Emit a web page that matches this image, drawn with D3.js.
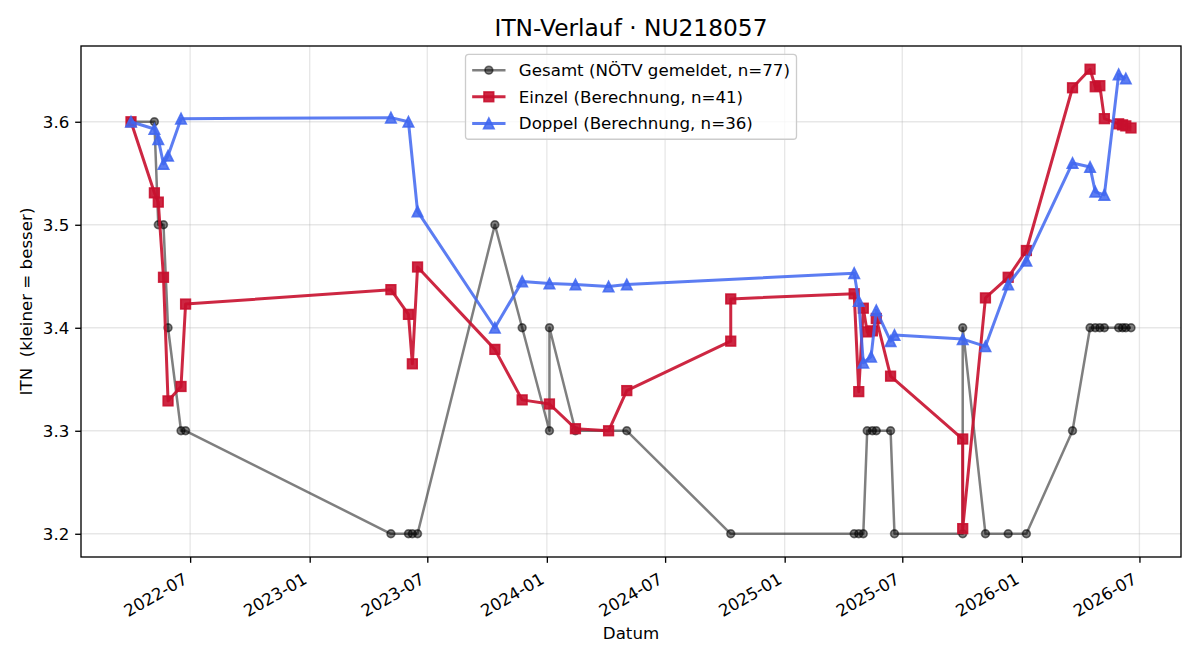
<!DOCTYPE html>
<html><head><meta charset="utf-8">
<script src="https://cdn.jsdelivr.net/npm/d3@7"></script>
<style>body{margin:0;background:#fff} svg{display:block} text{font-family:"DejaVu Sans",sans-serif;fill:#000}</style>
</head><body><svg id="c" width="1200" height="660"></svg>
<script>
// ---- data ----
const gesamtDates = ["2022-04-01","2022-05-07","2022-05-13","2022-05-21","2022-05-28","2022-06-17","2022-06-24","2023-05-06","2023-06-02","2023-06-08","2023-06-16","2023-10-13","2023-11-24","2024-01-05","2024-01-05","2024-02-14","2024-05-03","2024-10-10","2025-04-18","2025-04-25","2025-05-02","2025-05-08","2025-05-16","2025-05-22","2025-06-13","2025-06-19","2025-10-02","2025-10-02","2025-11-06","2025-12-11","2026-01-08","2026-03-20","2026-04-16","2026-04-24","2026-05-01","2026-05-08","2026-05-30","2026-06-05","2026-06-10","2026-06-18"];
const gesamtValues = [3.6,3.6,3.5,3.5,3.4,3.3,3.3,3.2,3.2,3.2,3.2,3.5,3.4,3.3,3.4,3.3,3.3,3.2,3.2,3.2,3.2,3.3,3.3,3.3,3.3,3.2,3.2,3.4,3.2,3.2,3.2,3.3,3.4,3.4,3.4,3.4,3.4,3.4,3.4,3.4];

const einzelDates = ["2022-04-01","2022-05-07","2022-05-13","2022-05-21","2022-05-28","2022-06-17","2022-06-24","2023-05-06","2023-06-02","2023-06-08","2023-06-16","2023-10-13","2023-11-24","2024-01-05","2024-02-14","2024-04-05","2024-05-03","2024-10-10","2024-10-10","2025-04-18","2025-04-25","2025-05-02","2025-05-08","2025-05-16","2025-05-22","2025-06-13","2025-10-02","2025-10-02","2025-11-06","2025-12-11","2026-01-08","2026-03-20","2026-04-16","2026-04-24","2026-05-01","2026-05-08","2026-05-30","2026-06-05","2026-06-10","2026-06-18"];
const einzelValues = [3.600,3.531,3.522,3.449,3.329,3.343,3.423,3.437,3.413,3.365,3.459,3.379,3.330,3.326,3.302,3.300,3.339,3.387,3.428,3.433,3.338,3.419,3.396,3.397,3.409,3.353,3.292,3.205,3.429,3.449,3.475,3.633,3.651,3.634,3.635,3.603,3.598,3.597,3.596,3.594];

const doppelDates = ["2022-04-01","2022-05-07","2022-05-13","2022-05-21","2022-05-28","2022-06-17","2023-05-06","2023-06-02","2023-06-16","2023-10-13","2023-11-24","2024-01-05","2024-02-14","2024-04-05","2024-05-03","2025-04-18","2025-04-25","2025-05-02","2025-05-14","2025-05-22","2025-06-13","2025-06-19","2025-10-02","2025-11-06","2025-12-11","2026-01-08","2026-03-20","2026-04-16","2026-04-24","2026-05-08","2026-05-30","2026-06-10"];
const doppelValues = [3.600,3.593,3.583,3.559,3.567,3.603,3.604,3.600,3.513,3.400,3.445,3.443,3.442,3.440,3.442,3.453,3.426,3.366,3.372,3.417,3.387,3.393,3.389,3.382,3.442,3.465,3.560,3.556,3.532,3.529,3.646,3.642];

const seriesLabels = ["Gesamt (NÖTV gemeldet, n=77)","Einzel (Berechnung, n=41)","Doppel (Berechnung, n=36)"];
const xTickLabels = ["2022-07","2023-01","2023-07","2024-01","2024-07","2025-01","2025-07","2026-01","2026-07"];
const yTickValues = [3.2,3.3,3.4,3.5,3.6];
const titleText = "ITN-Verlauf · NU218057";
const xLabelText = "Datum";
const yLabelText = "ITN  (kleiner = besser)";

// ---- layout ----
const L = 81, R = 1181, T = 46, B = 557;
const parse = d3.timeParse("%Y-%m-%d");
const mk = (ds, vs) => ds.map((d, i) => ({date: parse(d), v: vs[i]}));
const gesamt = mk(gesamtDates, gesamtValues);
const einzel = mk(einzelDates, einzelValues);
const doppel = mk(doppelDates, doppelValues);
const all = gesamt.concat(einzel, doppel);

const xe = d3.extent(all, d => +d.date);
const xp = (xe[1] - xe[0]) * 0.05;
const x = d3.scaleTime().domain([new Date(xe[0] - xp), new Date(xe[1] + xp)]).range([L, R]);
const ye = d3.extent(all, d => d.v);
const yp = (ye[1] - ye[0]) * 0.05;
const y = d3.scaleLinear().domain([ye[0] - yp, ye[1] + yp]).range([B, T]);

const svg = d3.select("#c");
svg.append("rect").attr("width", 1200).attr("height", 660).attr("fill", "#fff");

const xTickDates = xTickLabels.map(s => parse(s + "-01"));

// grid
const grid = svg.append("g");
grid.selectAll(".gx").data(xTickDates).enter().append("line")
  .attr("x1", d => x(d)).attr("x2", d => x(d)).attr("y1", T).attr("y2", B)
  .attr("stroke", "#b0b0b0").attr("stroke-opacity", 0.3).attr("stroke-width", 1.33);
grid.selectAll(".gy").data(yTickValues).enter().append("line")
  .attr("x1", L).attr("x2", R).attr("y1", d => y(d)).attr("y2", d => y(d))
  .attr("stroke", "#b0b0b0").attr("stroke-opacity", 0.3).attr("stroke-width", 1.33);

// axes
const tickLen = 5.83, tickPad = 5.83;
const xAxis = d3.axisBottom(x).tickValues(xTickDates).tickFormat((d, i) => xTickLabels[i])
  .tickSize(tickLen).tickPadding(tickPad);
const gx = svg.append("g").attr("transform", `translate(0,${B})`).call(xAxis);
gx.select(".domain").remove();
gx.selectAll(".tick line").attr("stroke", "#000").attr("stroke-width", 1.33);
gx.selectAll(".tick text")
  .attr("font-size", "16.67px").attr("font-family", "DejaVu Sans")
  .attr("text-anchor", "end").attr("y", null).attr("dy", null)
  .attr("transform", "translate(-2,25.5) rotate(-30)");

const yAxis = d3.axisLeft(y).tickValues(yTickValues).tickFormat(d3.format(".1f"))
  .tickSize(tickLen).tickPadding(tickPad);
const gy = svg.append("g").attr("transform", `translate(${L},0)`).call(yAxis);
gy.select(".domain").remove();
gy.selectAll(".tick line").attr("stroke", "#000").attr("stroke-width", 1.33);
gy.selectAll(".tick text").attr("font-size", "16.67px").attr("font-family", "DejaVu Sans")
  .attr("dy", "0.36em");

// series
const styles = [
  {data: gesamt, color: "#000", op: 0.5, lw: 2.5, marker: "circle"},
  {data: einzel, color: "#c8102e", op: 0.9, lw: 3.0, marker: "square"},
  {data: doppel, color: "#3f66f0", op: 0.85, lw: 3.0, marker: "triangle"}
];
const line = d3.line().x(d => x(d.date)).y(d => y(d.v));

function drawMarker(g, type, cx, cy, s) {
  let el;
  if (type === "circle") {
    el = g.append("circle").attr("cx", cx).attr("cy", cy).attr("r", 3.9);
  } else if (type === "square") {
    const h = 4.8;
    el = g.append("rect").attr("x", cx - h).attr("y", cy - h).attr("width", 2*h).attr("height", 2*h);
  } else {
    const h = 5.2;
    el = g.append("path").attr("d", `M${cx},${cy-h}L${cx-h},${cy+h}L${cx+h},${cy+h}Z`);
  }
  el.attr("fill", s.color).attr("fill-opacity", s.op)
    .attr("stroke", s.color).attr("stroke-opacity", s.op).attr("stroke-width", 1.67)
    .attr("stroke-linejoin", "miter");
}

const plot = svg.append("g");
styles.forEach(s => {
  const g = plot.append("g");
  g.append("path").datum(s.data).attr("d", line).attr("fill", "none")
    .attr("stroke", s.color).attr("stroke-opacity", s.op).attr("stroke-width", s.lw)
    .attr("stroke-linejoin", "round").attr("stroke-linecap", "butt");
  s.data.forEach(d => drawMarker(g, s.marker, x(d.date), y(d.v), s));
});

// spines
svg.append("rect").attr("x", L).attr("y", T).attr("width", R - L).attr("height", B - T)
  .attr("fill", "none").attr("stroke", "#000").attr("stroke-width", 1.33);

// title & labels
svg.append("text").attr("x", (L + R) / 2).attr("y", 36).attr("text-anchor", "middle")
  .attr("font-size", "23.3px").text(titleText);
svg.append("text").attr("x", (L + R) / 2).attr("y", 639).attr("text-anchor", "middle")
  .attr("font-size", "16.67px").text(xLabelText);
svg.append("text").attr("transform", `translate(32,${(T + B) / 2}) rotate(-90)`)
  .attr("text-anchor", "middle").attr("font-size", "16.67px")
  .style("white-space", "pre").text(yLabelText);

// legend
const fs = 16.67;
const lg = svg.append("g");
const rowH = 18.3, lsp = fs * 0.5, bpad = fs * 0.4;
const lgTop = T + fs * 0.5;
const lgW = 331, lgH = 2 * bpad + 3 * rowH + 2 * lsp;
const lgX = (L + R) / 2 - lgW / 2;
lg.append("rect").attr("x", lgX).attr("y", lgTop).attr("width", lgW).attr("height", lgH)
  .attr("rx", 3.3).attr("fill", "#fff").attr("fill-opacity", 0.8)
  .attr("stroke", "#cccccc").attr("stroke-width", 1.33);
styles.forEach((s, i) => {
  const cy = lgTop + bpad + rowH / 2 + i * (rowH + lsp);
  const hx0 = lgX + bpad, hx1 = hx0 + fs * 2;
  lg.append("line").attr("x1", hx0).attr("x2", hx1).attr("y1", cy).attr("y2", cy)
    .attr("stroke", s.color).attr("stroke-opacity", s.op).attr("stroke-width", s.lw);
  drawMarker(lg, s.marker, (hx0 + hx1) / 2, cy, s);
  lg.append("text").attr("x", hx1 + fs * 0.8).attr("y", cy).attr("dy", "0.36em")
    .attr("font-size", "16.67px").text(seriesLabels[i]);
});
</script></body></html>
